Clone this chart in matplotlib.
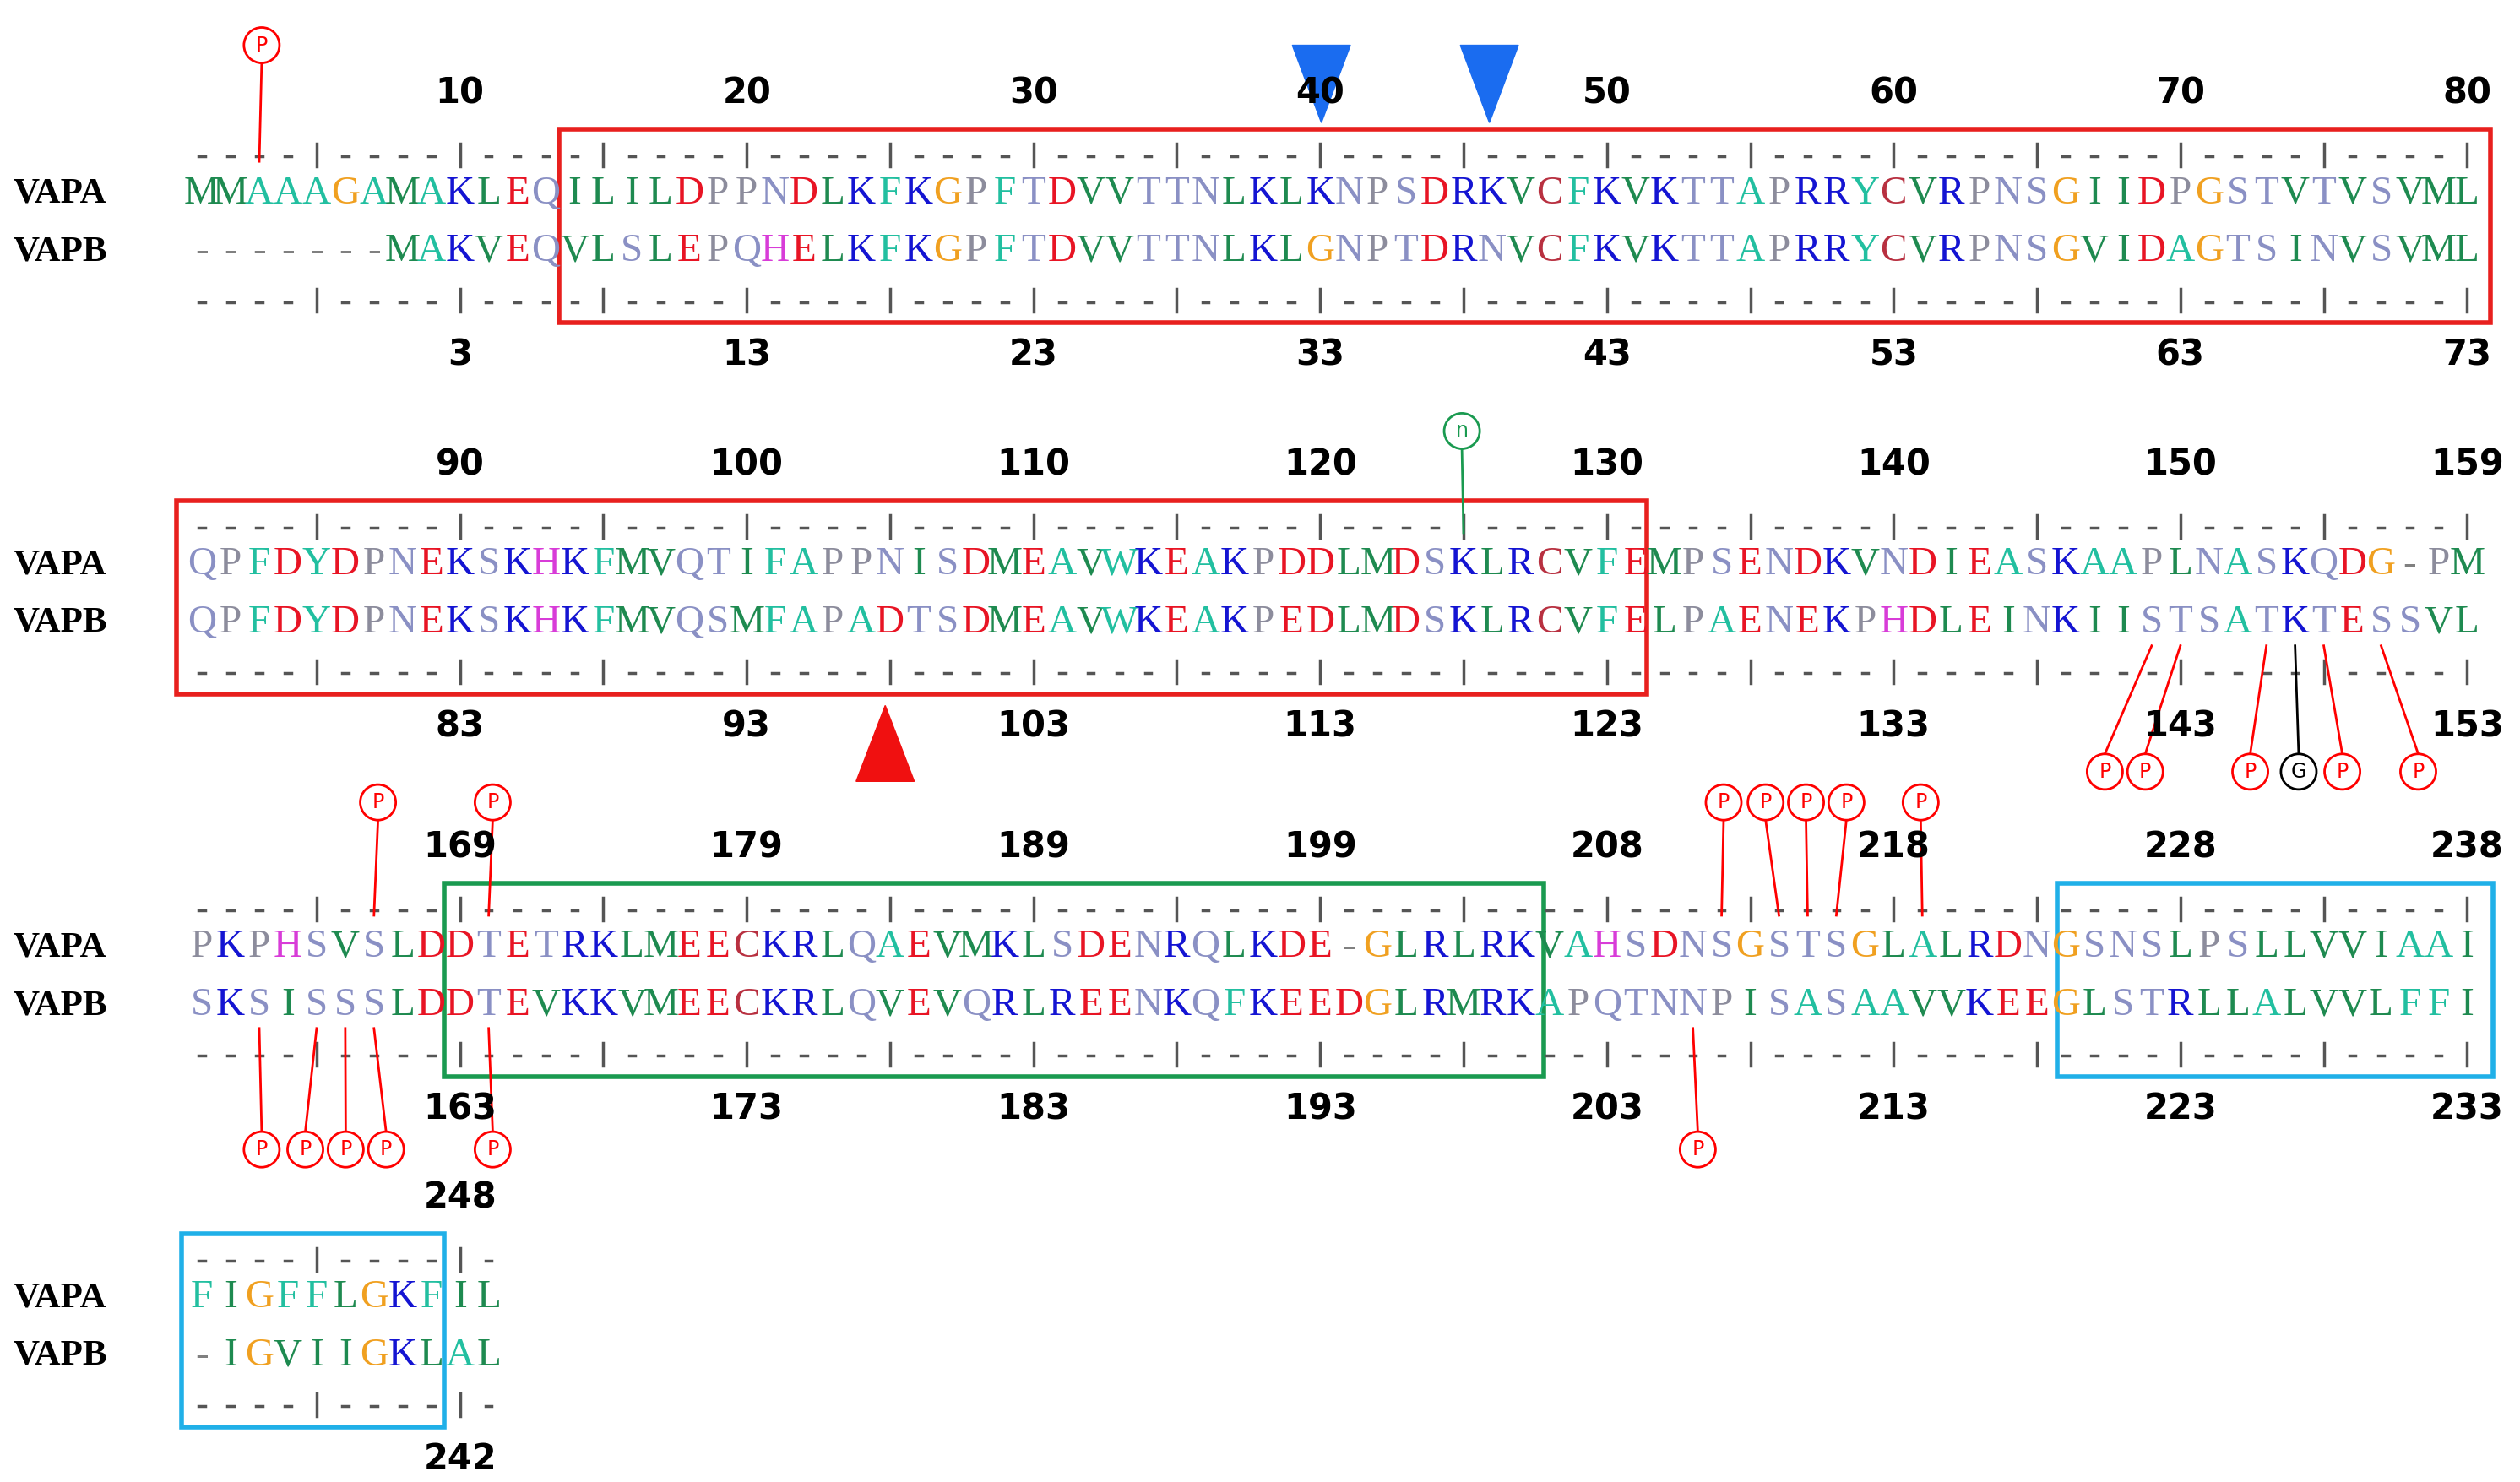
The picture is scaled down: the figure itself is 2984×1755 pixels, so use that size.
import matplotlib.pyplot as plt
from matplotlib.patches import Circle, Rectangle, Polygon

# alignment rows (80 columns each)
vapa_rows = ["MMAAAGAMAKLEQILILDPPNDLKFKGPFTDVVTTNLKLKNPSDRKVCFKVKTTAPRRYCVRPNSGIIDPGSTVTVSVML",
             "QPFDYDPNEKSKHKFMVQTIFAPPNISDMEAVWKEAKPDDLMDSKLRCVFEMPSENDKVNDIEASKAAPLNASKQDG-PM",
             "PKPHSVSLDDTETRKLMEECKRLQAEVMKLSDENRQLKDE-GLRLRKVAHSDNSGSTSGLALRDNGSNSLPSLLVVIAAI",
             "FIGFFLGKFIL"]
vapb_rows = ["-------MAKVEQVLSLEPQHELKFKGPFTDVVTTNLKLGNPTDRNVCFKVKTTAPRRYCVRPNSGVIDAGTSINVSVML",
             "QPFDYDPNEKSKHKFMVQSMFAPADTSDMEAVWKEAKPEDLMDSKLRCVFELPAENEKPHDLEINKIISTSATKTESSVL",
             "SKSISSSLDDTEVKKVMEECKRLQVEVQRLREENKQFKEEDGLRMRKAPQTNNPISASAAVVKEEGLSTRLLALVVLFFI",
             "-IGVIIGKLAL"]
top_nums = [["10", "20", "30", "40", "50", "60", "70", "80"],
            ["90", "100", "110", "120", "130", "140", "150", "159"],
            ["169", "179", "189", "199", "208", "218", "228", "238"],
            ["248"]]
bot_nums = [["3", "13", "23", "33", "43", "53", "63", "73"],
            ["83", "93", "103", "113", "123", "133", "143", "153"],
            ["163", "173", "183", "193", "203", "213", "223", "233"],
            ["242"]]
row_y = [120, 350, 587, 804]
# boxes: (row, col start, col end, color)
boxes = [(0, 12.45, 79.8, "#e8201e"), (1, -0.9, 50.4, "#e8201e"),
         (2, 8.45, 46.8, "#1a9a50"), (2, 64.7, 79.9, "#20b0e8"), (3, -0.7, 8.45, "#20b0e8")]
# modified sites: (row, letter col, 'a'/'b' seq, circle x, circle y, label, color)
sites = [(0, 2, "a", 162, 28, "P", "red"),
         (1, 44, "a", 905, 267, "n", "#1a9a50"),
         (1, 68, "b", 1303, 478, "P", "red"), (1, 69, "b", 1328, 478, "P", "red"),
         (1, 72, "b", 1393, 478, "P", "red"), (1, 73, "b", 1423, 478, "G", "black"),
         (1, 74, "b", 1450, 478, "P", "red"), (1, 76, "b", 1497, 478, "P", "red"),
         (2, 6, "a", 234, 497, "P", "red"), (2, 10, "a", 305, 497, "P", "red"),
         (2, 53, "a", 1067, 497, "P", "red"), (2, 55, "a", 1093, 497, "P", "red"),
         (2, 56, "a", 1118, 497, "P", "red"), (2, 57, "a", 1143, 497, "P", "red"),
         (2, 60, "a", 1189, 497, "P", "red"),
         (2, 2, "b", 162, 712, "P", "red"), (2, 4, "b", 189, 712, "P", "red"),
         (2, 5, "b", 214, 712, "P", "red"), (2, 6, "b", 239, 712, "P", "red"),
         (2, 10, "b", 305, 712, "P", "red"), (2, 52, "b", 1051, 712, "P", "red")]

colors = {}
for c in "KR": colors[c] = "#1414d2"
for c in "DE": colors[c] = "#e81424"
for c in "ILMV": colors[c] = "#1e8a50"
for c in "AFYW": colors[c] = "#22bfa0"
for c in "NQST": colors[c] = "#8a90c4"
colors["P"] = "#8c8c9c"
colors["G"] = "#f0a020"
colors["C"] = "#b83040"
colors["H"] = "#d83cd8"
colors["-"] = "#808080"

x0, dx = 125, 17.75
def cx(col):
    return x0 + col * dx

fig = plt.figure(figsize=(29.84, 17.55), dpi=100)
ax = fig.add_axes([0, 0, 1, 1])
ax.set_xlim(0, 1560)
ax.set_ylim(918, 0)
ax.axis("off")

for r in range(4):
    y = row_y[r]
    ax.text(8, y, "VAPA", fontsize=31, fontweight="bold", family="Liberation Serif", va="center")
    ax.text(8, y + 36, "VAPB", fontsize=31, fontweight="bold", family="Liberation Serif", va="center")
    for seq, yy in ((vapa_rows[r], y), (vapb_rows[r], y + 36)):
        for i, ch in enumerate(seq):
            ax.text(cx(i), yy, ch, fontsize=34, family="Liberation Serif", color=colors[ch],
                    ha="center", va="center")
    ncol = len(vapa_rows[r])
    for ry in (y - 23, y + 67):
        for i in range(ncol):
            if (r * 80 + i + 1) % 5 == 0:
                ax.plot([cx(i), cx(i)], [ry - 8, ry + 6], color="#555555", lw=2.5)
            else:
                ax.plot([cx(i) - 2, cx(i) + 2], [ry, ry], color="#555555", lw=2.5)
    for k, s in enumerate(top_nums[r]):
        ax.text(cx(9 + 10 * k), y - 62, s, fontsize=30, fontweight="bold", ha="center", va="center")
    for k, s in enumerate(bot_nums[r]):
        ax.text(cx(9 + 10 * k), y + 100, s, fontsize=30, fontweight="bold", ha="center", va="center")

for r, a, b, col in boxes:
    y = row_y[r]
    ax.add_patch(Rectangle((cx(a), y - 40), cx(b) - cx(a), 120, fill=False, ec=col, lw=4))

for r, col, s, px, py, lab, c in sites:
    ly = row_y[r] + (-12 if s == "a" else 48)
    if py < row_y[r]:
        ax.plot([cx(col), px], [ly - 8, py + 11], color=c, lw=2)
    else:
        ax.plot([cx(col), px], [ly + 2, py - 11], color=c, lw=2)
    ax.add_patch(Circle((px, py), 11, fc="white", ec=c, lw=2, zorder=3))
    ax.text(px, py, lab, fontsize=17, color=c, ha="center", va="center", zorder=4)

# arrowheads
for tx in (818, 922):
    ax.add_patch(Polygon([[tx - 18, 28], [tx + 18, 28], [tx, 76]], color="#1a6cf0"))
ax.add_patch(Polygon([[530, 484], [566, 484], [548, 437]], color="#f01010"))

plt.savefig("out.png")
